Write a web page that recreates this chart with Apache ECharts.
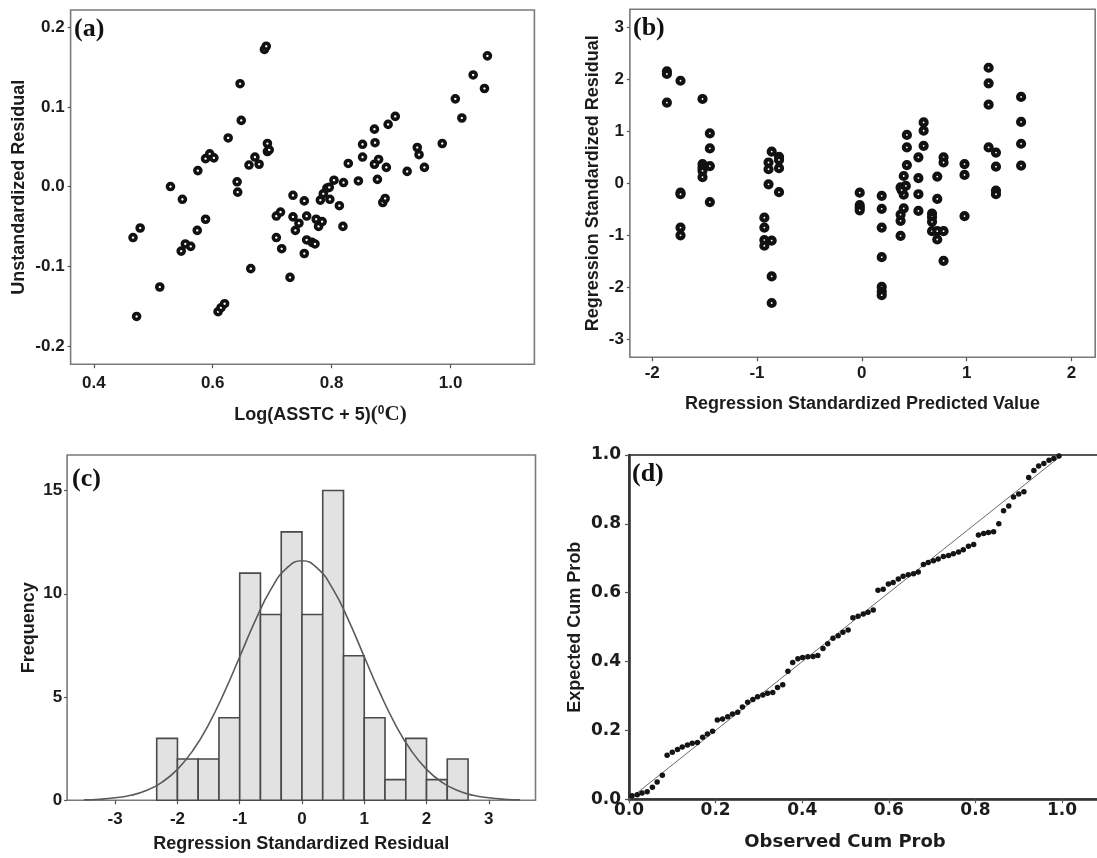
<!DOCTYPE html>
<html>
<head>
<meta charset="utf-8">
<script src="https://cdn.jsdelivr.net/npm/echarts@6/dist/echarts.min.js"></script>
<style>
  html, body { margin: 0; padding: 0; background: #fff; overflow: hidden; }
  #chart { width: 1097px; height: 858px; }
</style>
</head>
<body>
<div id="chart"></div>
<script>
// ---------- (a) Unstandardized residual vs Log(ASSTC + 5) ----------
const logAsstc = [
  0.466, 0.478, 0.472, 0.511, 0.529, 0.549, 0.547, 0.554, 0.563, 0.574,
  0.575, 0.588, 0.588, 0.595, 0.602, 0.609, 0.614, 0.620, 0.626, 0.641,
  0.642, 0.646, 0.648, 0.661, 0.671, 0.678, 0.664, 0.687, 0.690, 0.692,
  0.692, 0.695, 0.707, 0.714, 0.707, 0.716, 0.730, 0.735, 0.735, 0.745,
  0.739, 0.754, 0.754, 0.758, 0.758, 0.767, 0.772, 0.774, 0.778, 0.781,
  0.784, 0.786, 0.792, 0.796, 0.797, 0.804, 0.813, 0.819, 0.820, 0.828,
  0.845, 0.852, 0.852, 0.872, 0.873, 0.872, 0.877, 0.879, 0.886, 0.890,
  0.892, 0.895, 0.907, 0.927, 0.944, 0.947, 0.956, 0.986, 1.008, 1.019,
  1.038, 1.057, 1.062
];
const unstdResidual = [
  -0.064, -0.052, -0.163, -0.126, 0.000, -0.016, -0.081, -0.072, -0.075, -0.055,
  0.020, -0.041, 0.035, 0.041, 0.036, -0.157, -0.152, -0.147, 0.061, 0.006,
  -0.007, 0.129, 0.083, 0.027, 0.037, 0.028, -0.103, 0.172, 0.176, 0.054,
  0.044, 0.046, -0.037, -0.032, -0.064, -0.078, -0.114, -0.011, -0.038, -0.046,
  -0.055, -0.018, -0.084, -0.037, -0.067, -0.070, -0.072, -0.041, -0.050, -0.017,
  -0.044, -0.009, -0.002, -0.001, -0.016, 0.008, -0.024, -0.050, 0.005, 0.029,
  0.007, 0.053, 0.037, 0.072, 0.055, 0.028, 0.009, 0.034, -0.020, -0.015,
  0.024, 0.078, 0.088, 0.019, 0.049, 0.040, 0.024, 0.054, 0.110, 0.086,
  0.140, 0.123, 0.164
];
const ticksAx = [0.4, 0.6, 0.8, 1.0];
const ticksAy = [-0.2, -0.1, 0.0, 0.1, 0.2];

// ---------- (b) Standardized residual vs standardized predicted value ----------
const stdPredicted = [
  -1.86, -1.86, -1.86,
  -1.73, -1.73, -1.73, -1.73, -1.73,
  -1.52, -1.52, -1.52, -1.52, -1.52,
  -1.45, -1.45, -1.45, -1.45,
  -0.89, -0.89, -0.89,
  -0.86, -0.86, -0.86, -0.86,
  -0.79, -0.79, -0.79, -0.79,
  -0.93, -0.93, -0.93, -0.93,
  -0.02, -0.02, -0.02, -0.02,
  0.19, 0.19, 0.19, 0.19, 0.19, 0.19, 0.19,
  0.37, 0.37, 0.37, 0.37,
  0.40, 0.40, 0.40, 0.42, 0.38,
  0.43, 0.43, 0.43,
  0.54, 0.54, 0.54, 0.54,
  0.59, 0.59, 0.59,
  0.67, 0.67, 0.67, 0.67,
  0.72, 0.72, 0.72, 0.72,
  0.78, 0.78, 0.78, 0.78,
  0.98, 0.98, 0.98,
  1.21, 1.21, 1.21, 1.21,
  1.28, 1.28, 1.28, 1.28,
  1.52, 1.52, 1.52, 1.52
];
const stdResidual = [
  2.15, 2.10, 1.55,
  1.97, -0.18, -0.21, -0.85, -1.00,
  1.62, 0.37, 0.30, 0.24, 0.12,
  0.96, 0.67, 0.33, -0.36,
  0.40, 0.27, -0.02,
  0.61, -1.10, -1.79, -2.30,
  0.51, 0.45, 0.29, -0.17,
  -0.66, -0.85, -1.09, -1.20,
  -0.18, -0.42, -0.47, -0.52,
  -0.24, -0.49, -0.85, -1.42, -1.99, -2.08, -2.15,
  -0.08, -0.60, -0.72, -1.01,
  0.14, -0.22, -0.48, -0.05, -0.13,
  0.93, 0.69, 0.35,
  0.50, 0.10, -0.21, -0.53,
  1.17, 1.01, 0.72,
  -0.58, -0.65, -0.74, -0.92,
  0.13, -0.30, -0.92, -1.08,
  0.50, 0.40, -0.92, -1.49,
  0.37, 0.16, -0.63,
  2.22, 1.92, 1.51, 0.69,
  0.59, 0.32, -0.14, -0.21,
  1.66, 1.18, 0.76, 0.34
];
const ticksBx = [-2, -1, 0, 1, 2];
const ticksBy = [-3, -2, -1, 0, 1, 2, 3];

// ---------- (c) Histogram of standardized residuals ----------
const binEdges = [-2.333, -2.0, -1.667, -1.333, -1.0, -0.667, -0.333, 0.0,
                  0.333, 0.667, 1.0, 1.333, 1.667, 2.0, 2.333, 2.667];
const binCounts = [3, 2, 2, 4, 11, 9, 13, 9, 15, 7, 4, 1, 3, 1, 2];
const normalCurveX = [-3.5, -3.25, -3.0, -2.75, -2.5, -2.25, -2.0, -1.75, -1.5, -1.25,
                      -1.0, -0.75, -0.5, -0.25, 0.0, 0.25, 0.5, 0.75, 1.0, 1.25,
                      1.5, 1.75, 2.0, 2.25, 2.5, 2.75, 3.0, 3.25, 3.5];
const normalCurveY = [0.02, 0.05, 0.12, 0.24, 0.47, 0.87, 1.50, 2.42, 3.67, 5.21,
                      6.95, 8.70, 10.21, 11.23, 11.60, 11.23, 10.21, 8.70, 6.95, 5.21,
                      3.67, 2.42, 1.50, 0.87, 0.47, 0.24, 0.12, 0.05, 0.02];
const ticksCx = [-3, -2, -1, 0, 1, 2, 3];
const ticksCy = [0, 5, 10, 15];

// ---------- (d) Normal P-P plot ----------
const observedCum = [
  0.007, 0.019, 0.030, 0.042, 0.054, 0.065, 0.077, 0.088, 0.100, 0.112,
  0.123, 0.135, 0.146, 0.158, 0.170, 0.181, 0.193, 0.204, 0.216, 0.228,
  0.239, 0.251, 0.262, 0.274, 0.286, 0.297, 0.309, 0.320, 0.332, 0.343,
  0.355, 0.367, 0.378, 0.390, 0.401, 0.413, 0.425, 0.436, 0.448, 0.459,
  0.471, 0.483, 0.494, 0.506, 0.517, 0.529, 0.541, 0.552, 0.564, 0.575,
  0.587, 0.599, 0.610, 0.622, 0.633, 0.645, 0.657, 0.668, 0.680, 0.691,
  0.703, 0.714, 0.726, 0.738, 0.749, 0.761, 0.772, 0.784, 0.796, 0.807,
  0.819, 0.830, 0.842, 0.854, 0.865, 0.877, 0.888, 0.900, 0.912, 0.923,
  0.935, 0.946, 0.958, 0.970, 0.981, 0.993
];
const expectedCum = [
  0.010, 0.013, 0.018, 0.022, 0.035, 0.050, 0.070, 0.128, 0.137, 0.145,
  0.152, 0.158, 0.163, 0.165, 0.180, 0.190, 0.198, 0.230, 0.233, 0.240,
  0.248, 0.253, 0.268, 0.282, 0.290, 0.298, 0.303, 0.308, 0.310, 0.325,
  0.333, 0.372, 0.397, 0.408, 0.412, 0.414, 0.415, 0.418, 0.438, 0.452,
  0.468, 0.475, 0.485, 0.492, 0.527, 0.532, 0.538, 0.543, 0.550, 0.607,
  0.610, 0.625, 0.630, 0.640, 0.648, 0.652, 0.655, 0.660, 0.682, 0.688,
  0.693, 0.698, 0.705, 0.708, 0.713, 0.718, 0.725, 0.735, 0.740, 0.768,
  0.772, 0.775, 0.777, 0.800, 0.838, 0.852, 0.878, 0.887, 0.893, 0.935,
  0.955, 0.968, 0.975, 0.985, 0.990, 0.997
];
const referenceLine = [[0, 0], [1, 1]];
const ticksD = [0.0, 0.2, 0.4, 0.6, 0.8, 1.0];

// ---------- shared styling ----------
const SANS = '"Liberation Sans", Arial, sans-serif';
const SERIF = '"Liberation Serif", "Times New Roman", serif';
const WIDE = '"DejaVu Sans", Verdana, sans-serif';
const INK = '#1c1c1c';
const fix1 = v => Number(v).toFixed(1);

function pair(xs, ys) { return xs.map((x, i) => [x, ys[i]]); }

function valueAxis(opts) {
  return Object.assign({
    type: 'value',
    scale: false,
    splitLine: { show: false },
    axisLine: { show: false, onZero: false },
    axisTick: {
      show: true, inside: false, length: opts.tickLen || 4,
      lineStyle: { color: '#555', width: 1.2 },
      customValues: opts.ticks
    },
    axisLabel: {
      customValues: opts.ticks,
      formatter: opts.fmt || (v => String(v)),
      fontFamily: opts.labelFont || SANS,
      fontWeight: 'bold',
      fontSize: opts.labelSize || 17,
      color: INK,
      margin: opts.margin
    },
    nameLocation: 'middle',
    nameTextStyle: Object.assign({
      fontFamily: SANS, fontWeight: 'bold', fontSize: 18, color: INK
    }, opts.nameStyle || {})
  }, opts.extra);
}

const boxGrid = (l, t, w, h, extra) => Object.assign({
  left: l, top: t, width: w, height: h,
  show: true, borderColor: '#7a7a7a', borderWidth: 1.6,
  backgroundColor: 'transparent', outerBoundsMode: 'none', containLabel: false
}, extra || {});

const option = {
  animation: false,
  backgroundColor: '#fff',
  grid: [
    boxGrid(70.6, 10, 463.8, 354.3),
    boxGrid(629.9, 9.3, 465.3, 348),
    boxGrid(67.1, 455, 468.4, 345.3),
    boxGrid(629, 455, 472, 344.3, { borderColor: '#555', borderWidth: 2 })
  ],
  xAxis: [
    valueAxis({
      ticks: ticksAx, fmt: fix1, margin: 11,
      extra: {
        gridIndex: 0, min: 0.361, max: 1.141,
        name: '{s|Log(ASSTC + 5)}{p|(}{sup|0}{p|C)}', nameGap: 40
      },
      nameStyle: {
        padding: [0, 0, 0, 36],
        rich: {
          s: { fontFamily: SANS, fontWeight: 'bold', fontSize: 18, color: INK },
          p: { fontFamily: SERIF, fontSize: 21, color: INK },
          sup: { fontFamily: SANS, fontWeight: 'bold', fontSize: 12, color: INK, verticalAlign: 'top' }
        }
      }
    }),
    valueAxis({
      ticks: ticksBx, margin: 8,
      extra: {
        gridIndex: 1, min: -2.213, max: 2.227,
        name: 'Regression Standardized Predicted Value', nameGap: 38
      }
    }),
    valueAxis({
      ticks: ticksCx, margin: 11,
      extra: {
        gridIndex: 2, min: -3.772, max: 3.75,
        name: 'Regression Standardized Residual', nameGap: 35
      }
    }),
    valueAxis({
      ticks: ticksD, fmt: fix1, margin: 3, labelFont: WIDE,
      extra: {
        gridIndex: 3, min: 0, max: 1.09,
        name: 'Observed Cum Prob', nameGap: 34,
        axisLine: { show: true, onZero: false, lineStyle: { color: '#333', width: 2.6 } }
      },
      nameStyle: { fontFamily: WIDE, fontSize: 18, padding: [0, 40, 0, 0] }
    })
  ],
  yAxis: [
    valueAxis({
      ticks: ticksAy, fmt: fix1, margin: 6, tickLen: 3,
      extra: {
        gridIndex: 0, min: -0.223, max: 0.2215,
        name: 'Unstandardized Residual', nameGap: 43
      }
    }),
    valueAxis({
      ticks: ticksBy, margin: 6, tickLen: 3,
      extra: {
        gridIndex: 1, min: -3.343, max: 3.343,
        name: 'Regression Standardized Residual', nameGap: 28
      }
    }),
    valueAxis({
      ticks: ticksCy, margin: 5, tickLen: 3,
      extra: {
        gridIndex: 2, min: 0, max: 16.72,
        name: 'Frequency', nameGap: 29
      }
    }),
    valueAxis({
      ticks: ticksD, fmt: fix1, margin: 8, tickLen: 4, labelFont: WIDE,
      extra: {
        gridIndex: 3, min: 0, max: 1,
        name: 'Expected Cum Prob', nameGap: 45,
        axisLine: { show: true, onZero: false, lineStyle: { color: '#333', width: 2.6 } }
      }
    })
  ],
  graphic: [
    { type: 'text', x: 74, y: 29, style: { text: '(a)', font: 'bold 26px "Liberation Serif"', fill: '#111', verticalAlign: 'middle' } },
    { type: 'text', x: 633, y: 28, style: { text: '(b)', font: 'bold 26px "Liberation Serif"', fill: '#111', verticalAlign: 'middle' } },
    { type: 'text', x: 72, y: 479, style: { text: '(c)', font: 'bold 26px "Liberation Serif"', fill: '#111', verticalAlign: 'middle' } },
    { type: 'text', x: 632, y: 474, style: { text: '(d)', font: 'bold 26px "Liberation Serif"', fill: '#111', verticalAlign: 'middle' } }
  ],
  series: [
    {
      type: 'scatter', xAxisIndex: 0, yAxisIndex: 0,
      data: pair(logAsstc, unstdResidual),
      symbol: 'circle', symbolSize: 6,
      itemStyle: { color: '#fff', borderColor: '#111', borderWidth: 3.6, opacity: 1 },
      emphasis: { disabled: true }, silent: true
    },
    {
      type: 'scatter', xAxisIndex: 1, yAxisIndex: 1,
      data: pair(stdPredicted, stdResidual),
      symbol: 'circle', symbolSize: 6,
      itemStyle: { color: '#fff', borderColor: '#111', borderWidth: 4.2, opacity: 1 },
      emphasis: { disabled: true }, silent: true
    },
    {
      type: 'custom', xAxisIndex: 2, yAxisIndex: 2,
      data: binCounts.map((c, i) => [binEdges[i], binEdges[i + 1], c]),
      encode: { x: [0, 1], y: 2 },
      renderItem: function (params, api) {
        const topLeft = api.coord([api.value(0), api.value(2)]);
        const bottomRight = api.coord([api.value(1), 0]);
        return {
          type: 'rect',
          shape: {
            x: topLeft[0], y: topLeft[1],
            width: bottomRight[0] - topLeft[0],
            height: bottomRight[1] - topLeft[1]
          },
          style: { fill: '#e2e2e2', stroke: '#4a4a4a', lineWidth: 1.6 }
        };
      },
      silent: true, z: 2
    },
    {
      type: 'line', xAxisIndex: 2, yAxisIndex: 2,
      data: pair(normalCurveX, normalCurveY),
      smooth: true, showSymbol: false, symbol: 'none',
      lineStyle: { color: '#5a5a5a', width: 1.6 },
      silent: true, z: 3
    },
    {
      type: 'line', xAxisIndex: 3, yAxisIndex: 3,
      data: referenceLine,
      showSymbol: false, symbol: 'none',
      lineStyle: { color: '#6a6a6a', width: 1 },
      silent: true, z: 2
    },
    {
      type: 'scatter', xAxisIndex: 3, yAxisIndex: 3,
      data: pair(observedCum, expectedCum),
      symbol: 'circle', symbolSize: 5.5,
      itemStyle: { color: '#141414', opacity: 1 },
      emphasis: { disabled: true }, silent: true, z: 3
    }
  ]
};

const chart = echarts.init(document.getElementById('chart'), null, { renderer: 'canvas' });
chart.setOption(option);
</script>
</body>
</html>
